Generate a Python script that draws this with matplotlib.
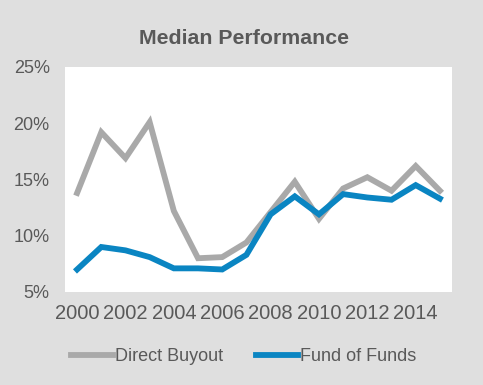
import numpy as np
import matplotlib.pyplot as plt
from matplotlib.ticker import FuncFormatter

years = list(range(2000, 2016))
direct_buyout = [13.8, 19.2, 16.9, 20.1, 12.2, 8.0, 8.1, 9.4, 12.1, 14.8, 11.5, 14.2, 15.2, 14.0, 16.2, 14.0]
fund_of_funds = [7.0, 9.0, 8.7, 8.1, 7.1, 7.1, 7.0, 8.3, 11.9, 13.5, 11.9, 13.7, 13.4, 13.2, 14.5, 13.3]
tick_years = list(range(2000, 2016, 2))

plt.rcParams['font.family'] = ['Liberation Sans', 'DejaVu Sans']
text_col = '#595959'

fig = plt.figure(figsize=(4.83, 3.85), dpi=100, facecolor='#dfdfdf')
ax = fig.add_axes([0.1346, 0.2416, 0.8012, 0.5844])
ax.set_facecolor('white')

x = np.arange(len(years))
ax.plot(x, direct_buyout, color='#a9a9a9', lw=4.2, label='Direct Buyout', solid_joinstyle='miter')
ax.plot(x, fund_of_funds, color='#0a85c2', lw=4.2, label='Fund of Funds', solid_joinstyle='miter')

ax.set_xlim(-0.5, len(years) - 0.5)
ax.set_ylim(5, 25)
ax.set_yticks([5, 10, 15, 20, 25])
ax.yaxis.set_major_formatter(FuncFormatter(lambda v, p: f'{v:.0f}%'))
ax.set_xticks([years.index(y) for y in tick_years])
ax.set_xticklabels([str(y) for y in tick_years])
ax.tick_params(length=0, colors=text_col)
ax.tick_params(axis='y', pad=11, labelsize=13)
ax.tick_params(axis='x', pad=9, labelsize=14.5)
for s in ax.spines.values():
    s.set_visible(False)

fig.text(0.505, 0.899, 'Median Performance', ha='center', va='center',
         fontsize=15.3, fontweight='bold', color=text_col)

fig.legend(loc='center', bbox_to_anchor=(0.505, 0.073), ncol=2, frameon=False,
           fontsize=13, labelcolor=text_col, handlelength=2.3, handletextpad=0.15,
           columnspacing=1.8)

fig.savefig('out.png', dpi=100, facecolor=fig.get_facecolor())
